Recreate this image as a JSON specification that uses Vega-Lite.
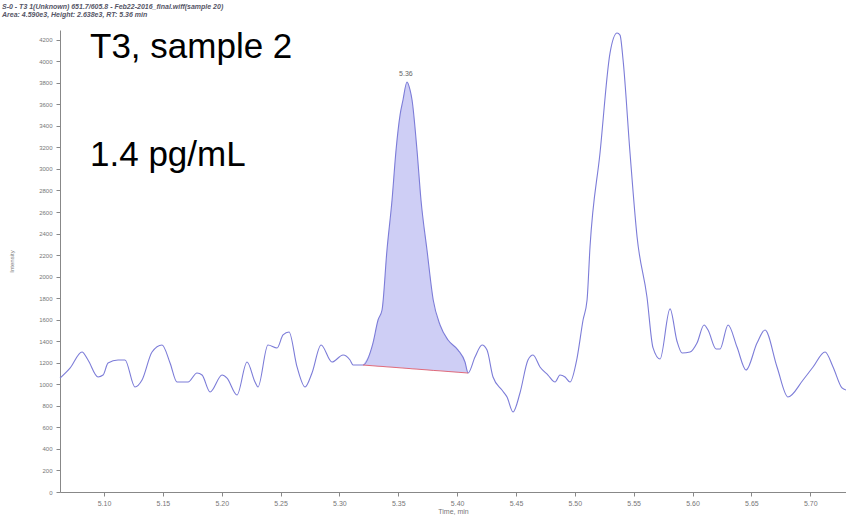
{
  "$schema": "https://vega.github.io/schema/vega-lite/v6.json",
  "width": 786,
  "height": 462,
  "autosize": {"type": "none"},
  "padding": {"left": 60, "top": 30, "right": 0, "bottom": 26},
  "background": "white",
  "view": {"stroke": null},
  "title": {
    "text": ["S-0 - T3 1(Unknown) 651.7/605.8 - Feb22-2016_final.wiff(sample 20)", "Area: 4.590e3, Height: 2.638e3, RT: 5.36 min"],
    "anchor": "start",
    "frame": "group",
    "align": "left",
    "dx": -58,
    "offset": 12,
    "font": "Liberation Sans",
    "fontSize": 7,
    "fontStyle": "italic",
    "fontWeight": "bold",
    "color": "#555566",
    "lineHeight": 8
  },
  "data": {
    "values": [
      {"t": 5.0626, "v": 1058}, {"t": 5.0711, "v": 1151}, {"t": 5.0813, "v": 1300}, {"t": 5.0864, "v": 1226},
      {"t": 5.0949, "v": 1068}, {"t": 5.0992, "v": 1086}, {"t": 5.1034, "v": 1198}, {"t": 5.1119, "v": 1226},
      {"t": 5.1178, "v": 1226}, {"t": 5.1263, "v": 975}, {"t": 5.1323, "v": 1040}, {"t": 5.1408, "v": 1300},
      {"t": 5.1493, "v": 1365}, {"t": 5.1561, "v": 1198}, {"t": 5.162, "v": 1021}, {"t": 5.1714, "v": 1021},
      {"t": 5.179, "v": 1105}, {"t": 5.1833, "v": 1086}, {"t": 5.1901, "v": 929}, {"t": 5.2003, "v": 1086},
      {"t": 5.2045, "v": 1058}, {"t": 5.213, "v": 901}, {"t": 5.2215, "v": 1207}, {"t": 5.2283, "v": 1021},
      {"t": 5.2308, "v": 975}, {"t": 5.2393, "v": 1365}, {"t": 5.247, "v": 1337}, {"t": 5.2521, "v": 1458},
      {"t": 5.2572, "v": 1486}, {"t": 5.264, "v": 1161}, {"t": 5.2708, "v": 975}, {"t": 5.2767, "v": 1105},
      {"t": 5.2844, "v": 1365}, {"t": 5.2937, "v": 1207}, {"t": 5.3031, "v": 1272}, {"t": 5.309, "v": 1226},
      {"t": 5.3116, "v": 1179},
      {"t": 5.32, "v": 1179, "base": 1179}, {"t": 5.3285, "v": 1383, "base": 1172}, {"t": 5.3328, "v": 1597, "base": 1168},
      {"t": 5.3362, "v": 1690, "base": 1166}, {"t": 5.3404, "v": 2247, "base": 1162}, {"t": 5.3447, "v": 2711, "base": 1159},
      {"t": 5.3481, "v": 3175, "base": 1156}, {"t": 5.3515, "v": 3500, "base": 1153}, {"t": 5.354, "v": 3640, "base": 1151},
      {"t": 5.3574, "v": 3807, "base": 1148}, {"t": 5.36, "v": 3733, "base": 1146}, {"t": 5.3617, "v": 3640, "base": 1144},
      {"t": 5.3659, "v": 3175, "base": 1141}, {"t": 5.3693, "v": 2711, "base": 1138}, {"t": 5.3744, "v": 2247, "base": 1134},
      {"t": 5.3797, "v": 1783, "base": 1129}, {"t": 5.3855, "v": 1551, "base": 1125}, {"t": 5.3923, "v": 1411, "base": 1119},
      {"t": 5.4008, "v": 1318, "base": 1112}, {"t": 5.4067, "v": 1207, "base": 1107}, {"t": 5.4093, "v": 1105, "base": 1105},
      {"t": 5.4152, "v": 1253}, {"t": 5.4212, "v": 1365}, {"t": 5.4254, "v": 1318}, {"t": 5.4305, "v": 1068},
      {"t": 5.4381, "v": 947}, {"t": 5.4424, "v": 882}, {"t": 5.4475, "v": 743}, {"t": 5.4534, "v": 919},
      {"t": 5.4602, "v": 1226}, {"t": 5.4645, "v": 1272}, {"t": 5.4704, "v": 1161}, {"t": 5.4772, "v": 1086},
      {"t": 5.4832, "v": 1021}, {"t": 5.4874, "v": 1086}, {"t": 5.4917, "v": 1068}, {"t": 5.4959, "v": 1021},
      {"t": 5.5019, "v": 1244}, {"t": 5.507, "v": 1597}, {"t": 5.5104, "v": 1783}, {"t": 5.5129, "v": 2275},
      {"t": 5.5214, "v": 3148}, {"t": 5.5299, "v": 4076}, {"t": 5.5359, "v": 4262}, {"t": 5.5384, "v": 4243},
      {"t": 5.541, "v": 4011}, {"t": 5.5469, "v": 3148}, {"t": 5.5529, "v": 2368}, {"t": 5.5613, "v": 1811},
      {"t": 5.5664, "v": 1340}, {"t": 5.5724, "v": 1235}, {"t": 5.5809, "v": 1700}, {"t": 5.5868, "v": 1400},
      {"t": 5.5911, "v": 1291}, {"t": 5.5979, "v": 1300}, {"t": 5.6038, "v": 1383}, {"t": 5.6098, "v": 1551},
      {"t": 5.6132, "v": 1504}, {"t": 5.62, "v": 1328}, {"t": 5.6234, "v": 1328}, {"t": 5.6302, "v": 1551},
      {"t": 5.6378, "v": 1346}, {"t": 5.6455, "v": 1133}, {"t": 5.6548, "v": 1383}, {"t": 5.6616, "v": 1504},
      {"t": 5.6718, "v": 1161}, {"t": 5.6811, "v": 882}, {"t": 5.6939, "v": 1040}, {"t": 5.7024, "v": 1161},
      {"t": 5.7126, "v": 1300}, {"t": 5.7194, "v": 1161}, {"t": 5.727, "v": 966}, {"t": 5.7304, "v": 947}
    ]
  },
  "encoding": {
    "x": {
      "field": "t", "type": "quantitative",
      "scale": {"domain": [5.0626, 5.7304], "nice": false, "zero": false},
      "axis": {
        "title": "Time, min",
        "values": [5.10, 5.15, 5.20, 5.25, 5.30, 5.35, 5.40, 5.45, 5.50, 5.55, 5.60, 5.65, 5.70],
        "format": ".2f",
        "grid": false,
        "domainColor": "#888888",
        "tickColor": "#888888",
        "tickSize": 4,
        "labelFont": "Liberation Sans",
        "labelFontSize": 7,
        "labelColor": "#777777",
        "labelPadding": 3,
        "titleFont": "Liberation Sans",
        "titleFontSize": 7,
        "titleFontWeight": "normal",
        "titleColor": "#777777",
        "titlePadding": 1
      }
    },
    "y": {
      "field": "v", "type": "quantitative",
      "scale": {"domain": [0, 4290], "nice": false},
      "axis": {
        "title": "Intensity",
        "values": [0, 200, 400, 600, 800, 1000, 1200, 1400, 1600, 1800, 2000, 2200, 2400, 2600, 2800, 3000, 3200, 3400, 3600, 3800, 4000, 4200],
        "format": "d",
        "grid": false,
        "domainColor": "#888888",
        "tickColor": "#888888",
        "tickSize": 4,
        "labelFont": "Liberation Sans",
        "labelFontSize": 6,
        "labelColor": "#777777",
        "labelPadding": 4,
        "titleFont": "Liberation Sans",
        "titleFontSize": 6,
        "titleFontWeight": "normal",
        "titleColor": "#777777",
        "titlePadding": 24
      }
    }
  },
  "layer": [
    {
      "transform": [{"filter": "isValid(datum.base)"}],
      "mark": {"type": "area", "color": "#c9c9f4", "opacity": 0.9, "interpolate": "monotone"},
      "encoding": {"y2": {"field": "base"}}
    },
    {
      "mark": {"type": "line", "color": "#7c7cd8", "strokeWidth": 1.1, "interpolate": "monotone"}
    },
    {
      "transform": [{"filter": "isValid(datum.base)"}],
      "mark": {"type": "line", "color": "#e06a7a", "strokeWidth": 1},
      "encoding": {"y": {"field": "base", "type": "quantitative"}}
    },
    {
      "data": {"values": [{"t": 5.0881, "v": 4132, "label": "T3, sample 2"}, {"t": 5.0881, "v": 3129, "label": "1.4 pg/mL"}]},
      "mark": {"type": "text", "align": "left", "baseline": "middle", "font": "Liberation Sans", "fontSize": 35, "color": "#000000"},
      "encoding": {"text": {"field": "label"}}
    },
    {
      "data": {"values": [{"t": 5.3565, "v": 3880, "label": "5.36"}]},
      "mark": {"type": "text", "align": "center", "baseline": "middle", "font": "Liberation Sans", "fontSize": 7, "color": "#666666"},
      "encoding": {"text": {"field": "label"}}
    }
  ]
}
